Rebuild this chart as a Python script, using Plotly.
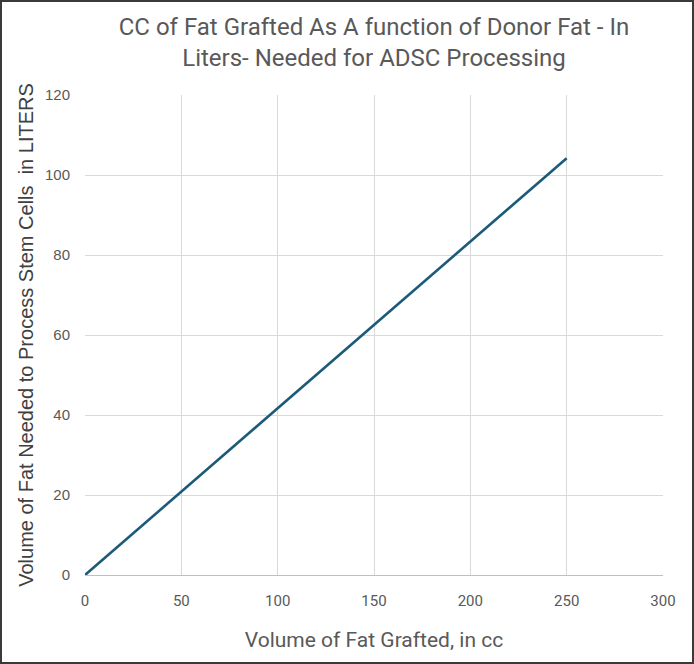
import plotly.graph_objects as go

fat_grafted_cc = [0, 50, 100, 150, 200, 250]
donor_fat_liters = [0, 20.8, 41.7, 62.5, 83.3, 104.2]

x_ticks = [0, 50, 100, 150, 200, 250, 300]
y_ticks = [0, 20, 40, 60, 80, 100, 120]

W, H = 694, 664
ML, MR, MT, MB = 85, 31, 95, 89
PW, PH = W - ML - MR, H - MT - MB

fig = go.Figure()
fig.add_trace(go.Scatter(
    x=fat_grafted_cc, y=donor_fat_liters, mode="lines",
    line=dict(color="#1b5a78", width=2.6), showlegend=False,
))

def px_x(p):
    return (p - ML) / PW

def px_y(p):
    return (H - p - MB) / PH

fig.add_shape(type="rect", xref="paper", yref="paper",
              x0=px_x(1), x1=px_x(693), y0=px_y(663), y1=px_y(1),
              line=dict(color="#3a3a3a", width=2), fillcolor="rgba(0,0,0,0)", layer="above")

narrow = "Liberation Sans Narrow, Arial Narrow, Roboto, sans-serif"
fig.update_layout(
    width=W, height=H,
    margin=dict(l=ML, r=MR, t=MT, b=MB),
    paper_bgcolor="white", plot_bgcolor="white",
    title=dict(
        text="CC of Fat Grafted As A function of Donor Fat - In<br>Liters- Needed for ADSC Processing",
        x=0.5, xref="paper", xanchor="center",
        y=1 - 35 / H, yanchor="middle",
        font=dict(family=narrow, size=24, color="#595959"),
    ),
    xaxis=dict(
        range=[0, 300], tickvals=x_ticks, showgrid=True, gridcolor="#d9d9d9", gridwidth=1,
        zeroline=False, showline=True, linecolor="#bfbfbf", linewidth=1, ticks="",
        ticklabelstandoff=12,
        tickfont=dict(family=narrow, size=15, color="#595959"),
        title=dict(text="Volume of Fat Grafted, in cc", standoff=23,
                   font=dict(family=narrow, size=21, color="#595959")),
        fixedrange=True,
    ),
    yaxis=dict(
        range=[0, 120], tickvals=y_ticks, showgrid=True, gridcolor="#d9d9d9", gridwidth=1,
        zeroline=False, showline=False, ticks="", ticklen=0,
        ticklabelstandoff=14,
        tickfont=dict(family="Liberation Sans, Arial, sans-serif", size=15, color="#595959"),
        title=dict(text="Volume of Fat Needed to Process Stem Cells  in LITERS", standoff=5,
                   font=dict(family="Liberation Sans, Arial, sans-serif", size=20, color="#404040")),
        fixedrange=True,
    ),
)
fig.write_html("out.html", config={"displayModeBar": False},
               post_script="document.body.style.margin='0';document.body.style.overflow='hidden';")
